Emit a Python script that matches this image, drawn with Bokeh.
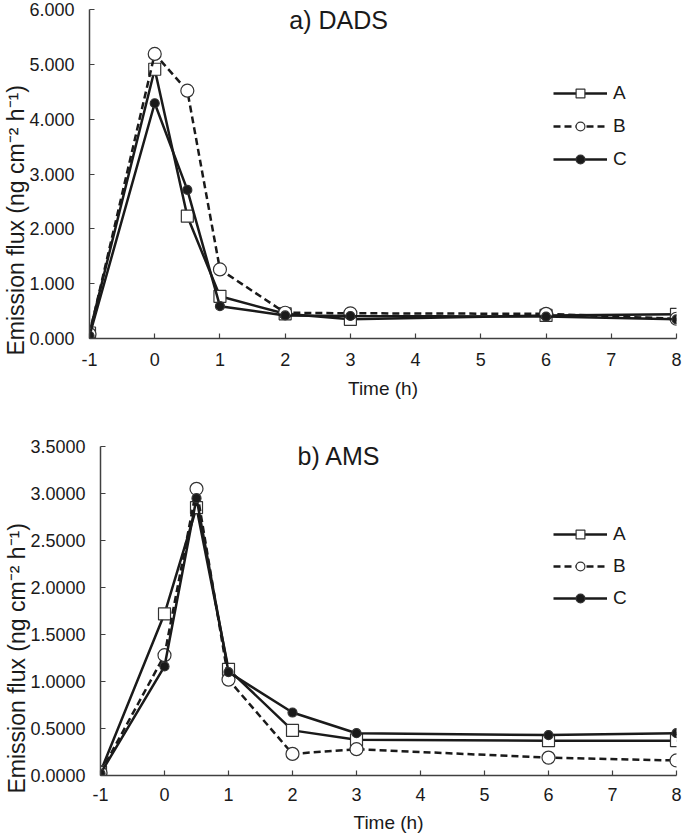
from bokeh.plotting import figure
from bokeh.models import Legend, LegendItem, Label, FixedTicker, NumeralTickFormatter, Range1d, Title
from bokeh.layouts import column, row
from bokeh.embed import file_html
from bokeh.resources import INLINE

# ---- data ----
time_h = [-1, 0, 0.5, 1, 2, 3, 6, 8]
series_names = ["A", "B", "C"]

dads_A = [0.10, 4.91, 2.23, 0.77, 0.45, 0.35, 0.42, 0.44]
dads_B = [0.08, 5.19, 4.52, 1.26, 0.47, 0.46, 0.45, 0.36]
dads_C = [0.05, 4.29, 2.71, 0.59, 0.42, 0.41, 0.40, 0.35]

ams_A = [0.04, 1.72, 2.85, 1.13, 0.48, 0.38, 0.37, 0.37]
ams_B = [0.03, 1.28, 3.05, 1.02, 0.23, 0.28, 0.19, 0.16]
ams_C = [0.02, 1.16, 2.95, 1.10, 0.67, 0.45, 0.43, 0.45]

x_ticks = [-1, 0, 1, 2, 3, 4, 5, 6, 7, 8]
x_tick_labels = ["-1", "0", "1", "2", "3", "4", "5", "6", "7", "8"]
dads_y_ticks = [0, 1, 2, 3, 4, 5, 6]
ams_y_ticks = [0, 0.5, 1.0, 1.5, 2.0, 2.5, 3.0, 3.5]

FONT = "Liberation Sans"
INK = "#1a1a1a"
AXIS = "#404040"

styles = {
    "A": dict(marker="square", size=12, fill_color="white", dash="solid"),
    "B": dict(marker="circle", size=13, fill_color="white", dash="7 4"),
    "C": dict(marker="circle", size=9, fill_color=INK, dash="solid"),
}


def make_panel(title, ys, yticks, yfmt, ymax, height, b_left, b_top, b_bottom,
               tick_standoff, label_standoff, title_xy, ylabel_offset, legend_loc, legend_spacing):
    p = figure(width=685, height=height, output_backend="svg", toolbar_location=None,
               x_range=Range1d(-1, 8), y_range=Range1d(0, ymax),
               min_border_left=b_left, min_border_right=9,
               min_border_top=b_top, min_border_bottom=b_bottom)
    p.outline_line_color = None
    p.grid.visible = False
    p.background_fill_color = "white"

    p.xaxis.ticker = FixedTicker(ticks=x_ticks)
    p.xaxis.major_label_overrides = {t: s for t, s in zip(x_ticks, x_tick_labels)}
    p.yaxis.ticker = FixedTicker(ticks=yticks)
    p.yaxis.formatter = NumeralTickFormatter(format=yfmt)
    for ax in (p.xaxis, p.yaxis):
        ax.axis_line_color = AXIS
        ax.axis_line_width = 1.5
        ax.major_tick_line_color = AXIS
        ax.major_tick_line_width = 1.2
        ax.major_tick_in = 5
        ax.major_tick_out = 0
        ax.minor_tick_line_color = None
        ax.major_label_text_font = FONT
        ax.major_label_text_font_size = "18px"
        ax.major_label_text_color = INK
    p.yaxis.major_label_standoff = 15
    p.xaxis.major_label_standoff = tick_standoff
    p.xaxis.axis_label = "Time (h)"
    p.xaxis.axis_label_text_font = FONT
    p.xaxis.axis_label_text_font_size = "19px"
    p.xaxis.axis_label_text_font_style = "normal"
    p.xaxis.axis_label_text_color = INK
    p.xaxis.axis_label_standoff = label_standoff

    p.add_layout(Title(text="Emission flux (ng cm⁻² h⁻¹)", align="left",
                       offset=ylabel_offset, text_font=FONT, text_font_size="23px",
                       text_font_style="normal", text_color=INK, standoff=-5), "left")

    items = []
    for name, y in zip(series_names, ys):
        st = styles[name]
        ln = p.line(time_h, y, line_color=INK, line_width=2.5, line_dash=st["dash"])
        sc = p.scatter(time_h, y, marker=st["marker"], size=st["size"],
                       fill_color=st["fill_color"], line_color="#333333", line_width=1.2)
        items.append(LegendItem(label=name, renderers=[ln, sc]))

    legend = Legend(items=items, location=legend_loc, orientation="vertical",
                    glyph_width=54, glyph_height=22, label_height=22,
                    label_standoff=6, spacing=legend_spacing, padding=0, margin=0,
                    border_line_color=None, background_fill_alpha=0,
                    label_text_font=FONT, label_text_font_size="19px",
                    label_text_color=INK)
    p.add_layout(legend)

    p.add_layout(Label(x=title_xy[0], y=title_xy[1], text=title, text_font=FONT,
                       text_font_size="25px", text_color=INK, text_align="center",
                       text_baseline="middle"))
    return p


p1 = make_panel("a) DADS", [dads_A, dads_B, dads_C], dads_y_ticks, "0.000", 6.0,
                420, 89, 9, 82, 14, 9, (2.82, 5.8), -17, (464, 168), 11)
p2 = make_panel("b) AMS", [ams_A, ams_B, ams_C], ams_y_ticks, "0.0000", 3.5,
                419, 100, 26, 64, 12, 8, (2.73, 3.40), -18, (453, 166), 10)

layout = column(row(p1), row(p2), spacing=0)
open("out.html", "w").write(file_html(layout, INLINE))
